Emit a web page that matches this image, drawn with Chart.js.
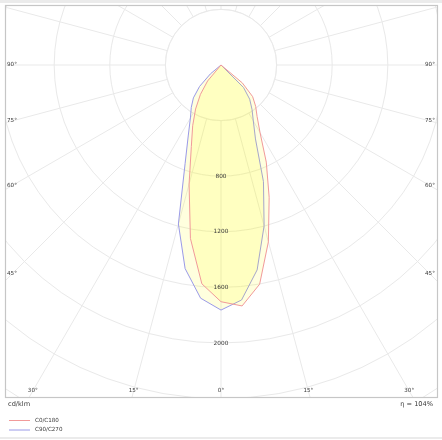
<!DOCTYPE html>
<html>
<head>
<title>Light distribution curve</title>
<script src="https://cdn.jsdelivr.net/npm/chart.js"></script>
<style>
  body { margin: 0; background: #fff; }
  canvas { display: block; }
</style>
</head>
<body>
<canvas id="polarChart" width="442" height="440"></canvas>
<script>
// gamma angle in degrees, 0 = straight down
const gamma = [0, 5, 10, 15, 20, 25, 30, 35, 40, 45, 50, 55, 60, 65, 70, 75, 80, 85, 90];

// luminous intensity in cd/klm for each half plane
const c0   = [1703, 1740, 1601, 1317, 1013, 771, 562, 453, 388, 322, 200, 0, 0, 0, 0, 0, 0, 0, 0];
const c180 = [1703, 1580, 1267, 887, 624, 482, 366, 258, 150, 0, 0, 0, 0, 0, 0, 0, 0, 0, 0];
const c90  = [1763, 1697, 1497, 1198, 893, 587, 465, 389, 321, 230, 0, 0, 0, 0, 0, 0, 0, 0, 0];
const c270 = [1763, 1684, 1487, 1184, 755, 556, 440, 373, 309, 218, 100, 0, 0, 0, 0, 0, 0, 0, 0];

const seriesNames = ['C0/C180', 'C90/C270'];
const ringLabels = [800, 1200, 1600, 2000];
const angleLabels = [0, 15, 30, 45, 60, 75, 90];
const unitText = 'cd/klm';
const etaText = 'η = 104%';

// directions around the full circle, clockwise from straight down (left half first)
const dirs = [];
for (let a = 0; a < 360; a += 5) dirs.push(a);

function planePair(left, right) {
    return dirs.map(a => {
        const g = a <= 180 ? a : 360 - a;
        const k = gamma.indexOf(g);
        if (k < 0) return 0;
        return (a <= 180 ? left : right)[k];
    });
}

const gridColor = '#e9e9e9';
const textColor = '#3a3a3a';
const fontFamily = '"DejaVu Sans", Verdana, sans-serif';

const polarFrame = {
    id: 'polarFrame',
    afterLayout(chart) {
        // the pole sits near the top of the frame, rings are 400 cd/klm apart
        const s = chart.scales.r, a = chart.chartArea;
        s.xCenter = (a.left + a.right) / 2;
        s.yCenter = a.top + 60;
        s.drawingArea = 55.6 * (s.max / 400);
    },
    beforeDraw(chart) {
        const ctx = chart.ctx, a = chart.chartArea;
        ctx.save();
        ctx.fillStyle = '#fff';
        ctx.fillRect(0, 0, chart.width, chart.height);
        ctx.fillStyle = '#ebebeb';
        ctx.fillRect(0, 0, chart.width, 3);
        ctx.fillRect(0, chart.height - 3, chart.width, 2);
        ctx.restore();
        ctx.save();
        ctx.beginPath();
        ctx.rect(a.left, a.top, a.right - a.left, a.bottom - a.top);
        ctx.clip();
    },
    beforeDatasetsDraw(chart) {
        // angle lines only start at the first ring
        const s = chart.scales.r, ctx = chart.ctx;
        const r0 = s.getDistanceFromCenterForValue(400);
        ctx.save();
        ctx.beginPath();
        ctx.arc(s.xCenter, s.yCenter, r0, 0, Math.PI * 2);
        ctx.fillStyle = '#fff';
        ctx.fill();
        ctx.strokeStyle = gridColor;
        ctx.lineWidth = 1;
        ctx.stroke();
        ctx.restore();
    },
    afterDatasetsDraw(chart) {
        const s = chart.scales.r, ctx = chart.ctx, a = chart.chartArea;
        ctx.save();
        ctx.fillStyle = textColor;
        ctx.textAlign = 'center';
        ctx.textBaseline = 'middle';
        ctx.font = '5.8px ' + fontFamily;
        ringLabels.forEach(v => {
            const p = s.getPointPositionForValue(0, v);
            ctx.fillText(String(v), p.x, p.y);
        });
        ctx.font = '5.6px ' + fontFamily;
        angleLabels.forEach(g => {
            const rad = g * Math.PI / 180;
            (g === 0 ? [1] : [-1, 1]).forEach(side => {
                const dx = side * Math.sin(rad), dy = Math.cos(rad);
                const xEdge = side > 0 ? a.right - 7 : a.left + 7;
                const tx = Math.abs(dx) > 1e-9 ? (xEdge - s.xCenter) / dx : Infinity;
                const ty = dy > 1e-9 ? (a.bottom - 6 - s.yCenter) / dy : Infinity;
                const t = Math.min(tx, ty);
                ctx.fillText(g + '°', s.xCenter + dx * t, s.yCenter + dy * t);
            });
        });
        ctx.restore();
    },
    afterDraw(chart) {
        const ctx = chart.ctx, a = chart.chartArea;
        ctx.restore();
        ctx.save();
        ctx.strokeStyle = '#c6c6c6';
        ctx.lineWidth = 1.2;
        ctx.strokeRect(a.left + 0.5, a.top + 0.5, a.right - a.left, a.bottom - a.top);

        ctx.fillStyle = textColor;
        ctx.textBaseline = 'middle';
        ctx.font = '6.6px ' + fontFamily;
        ctx.textAlign = 'left';
        ctx.fillText(unitText, a.left + 3, a.bottom + 7.5);
        ctx.textAlign = 'right';
        ctx.fillText(etaText, a.right - 4, a.bottom + 7.5);

        ctx.textAlign = 'left';
        ctx.font = '5.6px ' + fontFamily;
        chart.data.datasets.forEach((ds, i) => {
            const y = a.bottom + 23.5 + i * 9.5;
            ctx.strokeStyle = ds.borderColor;
            ctx.lineWidth = 1;
            ctx.beginPath();
            ctx.moveTo(a.left + 4, y);
            ctx.lineTo(a.left + 25, y);
            ctx.stroke();
            ctx.fillText(ds.label, a.left + 30, y);
        });
        ctx.restore();
    }
};

new Chart(document.getElementById('polarChart'), {
    type: 'radar',
    data: {
        labels: dirs,
        datasets: [
            {
                label: seriesNames[0],
                data: planePair(c180, c0),
                borderColor: '#f19a9a',
                backgroundColor: 'rgba(255, 255, 0, 0.13)',
                borderWidth: 1,
                fill: true
            },
            {
                label: seriesNames[1],
                data: planePair(c270, c90),
                borderColor: '#9a9ae8',
                backgroundColor: 'rgba(255, 255, 0, 0.13)',
                borderWidth: 1,
                fill: true
            }
        ]
    },
    options: {
        responsive: false,
        animation: false,
        devicePixelRatio: 1,
        events: [],
        layout: { autoPadding: false, padding: { left: 5, top: 5, right: 5, bottom: 43 } },
        elements: {
            point: { radius: 0 },
            line: { tension: 0 }
        },
        plugins: {
            legend: { display: false },
            tooltip: { enabled: false }
        },
        scales: {
            r: {
                min: 0,
                max: 3200,
                startAngle: 180,
                ticks: { display: false, stepSize: 400 },
                pointLabels: { display: false },
                grid: { color: gridColor, lineWidth: 1 },
                angleLines: {
                    color: gridColor,
                    lineWidth: c => (dirs[c.index] % 15 === 0 ? 1 : 0)
                }
            }
        }
    },
    plugins: [polarFrame]
});
</script>
</body>
</html>
